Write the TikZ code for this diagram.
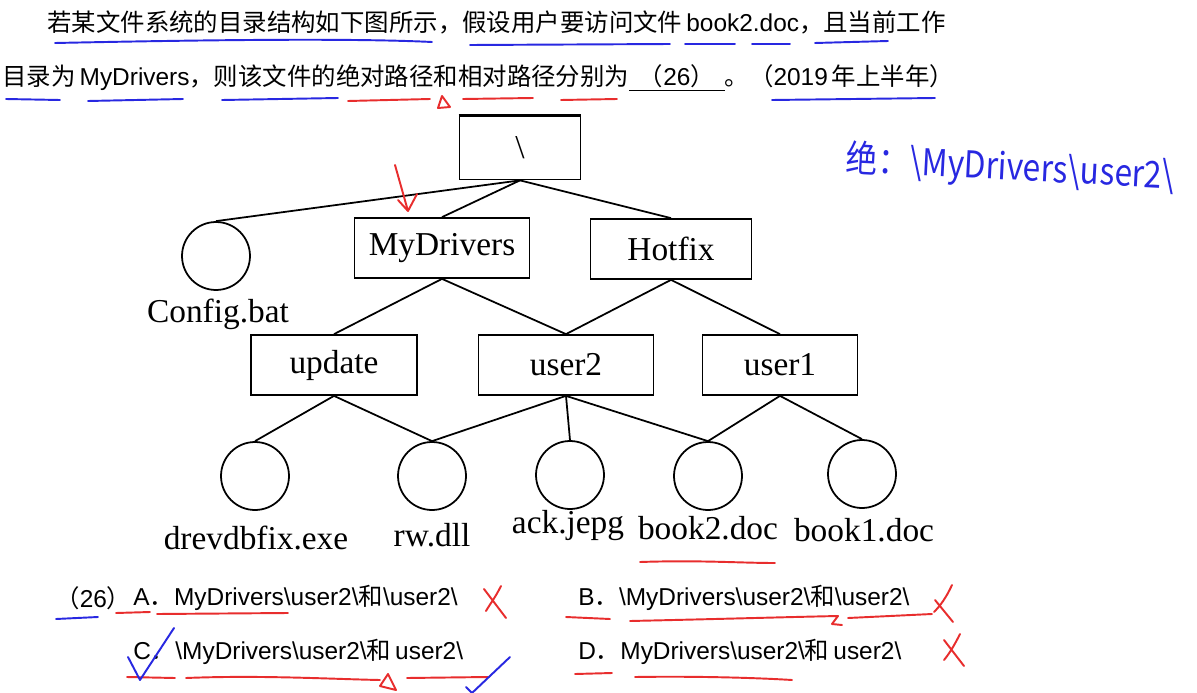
\documentclass[tikz,border=0pt]{standalone}
\usepackage{fontspec}
\setmainfont{Liberation Serif}
\newfontfamily\cjk{Noto Sans CJK SC}
\newfontfamily\arial{Liberation Sans}
\usetikzlibrary{positioning, calc}
\definecolor{inkblue}{RGB}{40, 40, 225}
\definecolor{inkred}{RGB}{232, 45, 45}
\newcommand{\bsl}{\textbackslash}
\newcommand{\qfont}{\fontsize{13.9}{16}\selectfont}
\newcommand{\treefont}{\fontsize{19}{22}\selectfont}

\begin{document}
\begin{tikzpicture}[x=0.02cm, y=-0.02cm,
  dirbox/.style={draw, line width=1pt, minimum width=#1, minimum height=1.2cm, font=\treefont, inner sep=0pt},
  fileball/.style={draw, circle, line width=1pt, minimum size=1.36cm, inner sep=0pt},
  flabel/.style={font=\treefont},
  link/.style={line width=1pt},
  qline/.style={anchor=west, font=\qfont, inner sep=0pt},
  blueink/.style={inkblue, line width=1.1pt, line cap=round, line join=round},
  redink/.style={inkred, line width=1.1pt, line cap=round, line join=round}
]
  \useasboundingbox[fill=white] (0,0) rectangle (1197,693);

  % question text
  \node[qline] (qone) at (47,22) {{\cjk 若某文件系统的目录结构如下图所示，假设用户要访问文件}\,{\arial book2.doc}{\cjk ，且当前工作}};
  \node[qline] (qtwo) at (2,78) {{\cjk 目录为}\,{\arial MyDrivers}{\cjk ，则该文件的绝对路径和相对路径分别为}\underline{\hspace{0.4em}{\cjk （}{\arial 26}{\cjk ）}\hspace{0.4em}}{\cjk 。（}{\arial 2019}\,{\cjk 年上半年）}};

  % directory tree
  \node[dirbox=2.42cm, minimum height=1.26cm] (root) at (520,148) {\bsl};
  \draw[line width=2pt] (root.north west) -- (root.north east);
  \node[dirbox=3.5cm] (mydrv) at (442,248) {MyDrivers};
  \node[dirbox=3.22cm] (hotfix) at (671,249) {Hotfix};
  \node[fileball] (cfg) at (216,256) {};
  \node[flabel] (cfglbl) at (218,314) {Config.bat};

  \node[dirbox=3.32cm] (update) at (334,365) {update};
  \node[dirbox=3.5cm] (usertwo) at (566,365) {user2};
  \node[dirbox=3.1cm] (userone) at (780,365) {user1};

  \node[fileball] (drv) at (255,476) {};
  \node[fileball] (rwdll) at (432,476) {};
  \node[fileball] (ack) at (570,475) {};
  \node[fileball] (bktwo) at (708,476) {};
  \node[fileball] (bkone) at (862,474) {};
  \node[flabel] (drvlbl) at (256,538) {drevdbfix.exe};
  \node[flabel] (rwlbl) at (432,535) {rw.dll};
  \node[flabel] (acklbl) at (568,526) {ack.jepg};
  \node[flabel] (bktwolbl) at (708,528) {book2.doc};
  \node[flabel] (bkonelbl) at (864,530) {book1.doc};

  \foreach \a/\b in {root/cfg, root/mydrv, root/hotfix, mydrv/update, mydrv/usertwo,
                     hotfix/usertwo, hotfix/userone, update/drv, update/rwdll, usertwo/rwdll,
                     usertwo/ack, usertwo/bktwo, userone/bktwo, userone/bkone}
    \draw[link] (\a.south) -- (\b.north);

  % answer options
  \node[qline] (qnum) at (55,598) {{\cjk （}{\arial 26}{\cjk ）}};
  \node[qline] (opta) at (133,598) {{\arial A}{\cjk ．}{\arial MyDrivers\bsl user2\bsl}{\cjk 和}{\arial \bsl user2\bsl}};
  \node[qline] (optb) at (578,598) {{\arial B}{\cjk ．}{\arial \bsl MyDrivers\bsl user2\bsl}{\cjk 和}{\arial \bsl user2\bsl}};
  \node[qline] (optc) at (133,652) {{\arial C}{\cjk ．}{\arial \bsl MyDrivers\bsl user2\bsl}{\cjk 和}\,{\arial user2\bsl}};
  \node[qline] (optd) at (578,652) {{\arial D}{\cjk ．}{\arial MyDrivers\bsl user2\bsl}{\cjk 和}\,{\arial user2\bsl}};

  % handwritten notes
  \node[inkblue, font=\cjk\fontsize{21}{24}\selectfont, rotate=-3, xscale=0.86, anchor=west, inner sep=0pt] (note) at (846,160) {绝：\bsl MyDrivers\bsl user2\bsl};
  \draw[redink] (395,165) -- (408,211) (398,200) -- (408,211) -- (417,194);

  % blue underlines
  \draw[blueink] (55,43) .. controls (200,40) and (350,38) .. (432,42);
  \draw[blueink] (470,45) -- (670,44);
  \draw[blueink] (685,44) -- (735,44);
  \draw[blueink] (752,44) -- (790,44);
  \draw[blueink] (815,43) -- (888,41);
  \draw[blueink] (6,99) -- (60,100);
  \draw[blueink] (88,101) -- (183,99);
  \draw[blueink] (222,100) -- (338,98);
  \draw[blueink] (772,100) -- (935,98);
  \draw[blueink] (56,619) -- (98,617);

  % red underlines
  \draw[redink] (348,101) -- (430,99);
  \draw[redink] (442,96) -- (438,108) -- (450,107) -- cycle;
  \draw[redink] (463,99) -- (533,98);
  \draw[redink] (561,100) -- (617,99);
  \draw[redink] (640,562) .. controls (700,560) and (740,563) .. (775,563);
  \draw[redink] (116,613) -- (150,612);
  \draw[redink] (157,614) -- (288,613);
  \draw[redink] (566,617) -- (610,619);
  \draw[redink] (630,621) .. controls (720,619) and (790,617) .. (838,616) -- (832,624) -- (842,625);
  \draw[redink] (848,618) -- (932,614);
  \draw[redink] (127,677) -- (175,678);
  \draw[redink] (186,678) .. controls (260,675) and (330,679) .. (380,680);
  \draw[redink] (388,674) -- (380,686) -- (396,690) -- cycle;
  \draw[redink] (407,678) -- (488,677);
  \draw[redink] (575,674) -- (612,673);
  \draw[redink] (635,677) .. controls (700,676) and (760,678) .. (792,680);

  % crosses and ticks
  \draw[redink] (484,589) -- (506,618) (501,586) .. controls (495,598) and (490,604) .. (486,611);
  \draw[redink] (935,600) -- (953,622) (952,585) .. controls (946,598) and (940,606) .. (934,612);
  \draw[redink] (944,640) -- (964,666) (960,634) .. controls (954,646) and (949,654) .. (944,660);
  \draw[blueink] (128,657) -- (140,680) -- (174,628);
  \draw[blueink] (466,687) -- (472,693) (472,693) -- (510,657);
\end{tikzpicture}
\end{document}
